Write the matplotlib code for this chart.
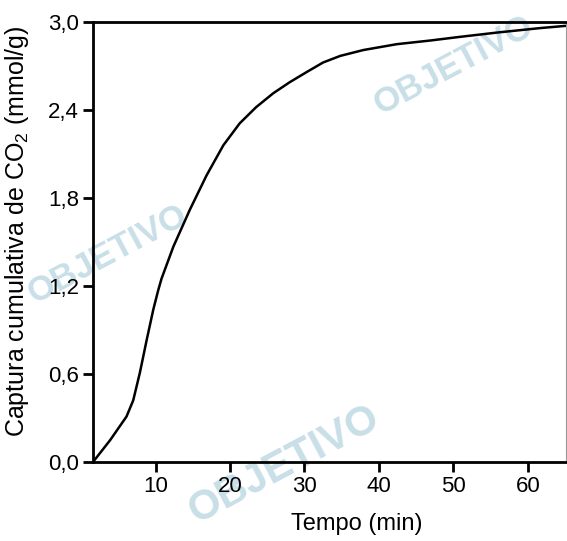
import matplotlib
matplotlib.use("Agg")
import matplotlib.pyplot as plt

plt.rcParams['font.family'] = ['Liberation Sans', 'DejaVu Sans']
plt.rcParams['mathtext.default'] = 'regular'

# values
tempo = [1.6, 3.9, 6.1, 7.0, 7.9, 8.8, 9.7, 10.35, 10.8, 12.4, 14.6, 16.85,
         19.1, 21.3, 23.5, 25.8, 28.0, 30.3, 32.5, 34.8, 37.9, 42.4, 46.9,
         50.9, 56.0, 61.7, 65.1]
captura = [0.0, 0.149, 0.31, 0.42, 0.61, 0.83, 1.04, 1.17, 1.25, 1.47, 1.72, 1.955,
           2.16, 2.31, 2.42, 2.515, 2.59, 2.66, 2.725, 2.77, 2.81, 2.85, 2.875,
           2.90, 2.93, 2.96, 2.975]

x_ticks = [10, 20, 30, 40, 50, 60]
y_ticks = [0.0, 0.6, 1.2, 1.8, 2.4, 3.0]
y_ticklabels = ['0,0', '0,6', '1,2', '1,8', '2,4', '3,0']

fig = plt.figure(figsize=(5.67, 5.41), dpi=100)
ax = fig.add_axes([0.164, 0.146, 0.834, 0.813])
ax.set_facecolor('none')

# watermarks
wm_color = '#c9dfe8'
for (wx, wy, fs) in [(0.50, 0.14, 30), (0.19, 0.53, 25), (0.80, 0.88, 25)]:
    fig.text(wx, wy, 'OBJETIVO', fontsize=fs, fontweight='bold', color=wm_color,
             rotation=28, ha='center', va='center', zorder=-1)

ax.plot(tempo, captura, color='black', linewidth=1.8, solid_joinstyle='round')

ax.set_xlim(1.6, 65.1)
ax.set_ylim(0, 3.0)
ax.set_xticks(x_ticks)
ax.set_yticks(y_ticks)
ax.set_yticklabels(y_ticklabels)
ax.tick_params(direction='out', length=7, width=2, labelsize=16, pad=3)

for side in ['left', 'bottom', 'top']:
    ax.spines[side].set_linewidth(2)
ax.spines['right'].set_linewidth(0.8)
ax.spines['right'].set_color('#999999')

ax.set_xlabel('Tempo (min)', fontsize=17)
ax.xaxis.set_label_coords(0.558, -0.115)
ax.set_ylabel('Captura cumulativa de CO$_2$ (mmol/g)', fontsize=18)
ax.yaxis.set_label_coords(-0.131, 0.525)

fig.savefig('out.png', dpi=100)
